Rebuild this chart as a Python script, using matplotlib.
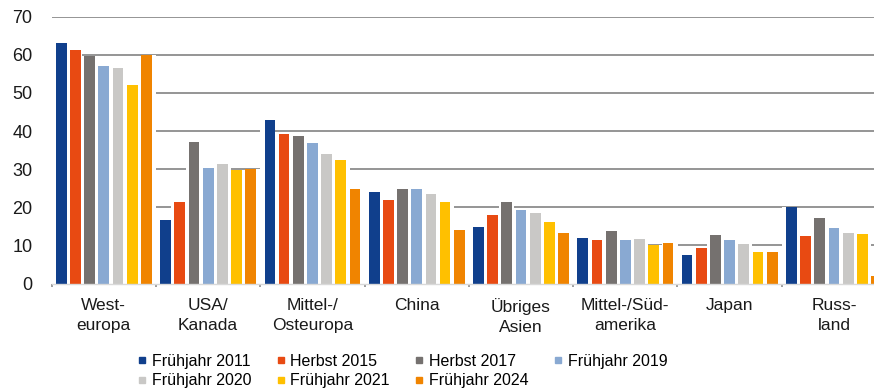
import matplotlib
matplotlib.use("Agg")
import matplotlib.pyplot as plt
from matplotlib.lines import Line2D
import numpy as np

plt.rcParams['font.family'] = ['Liberation Sans', 'DejaVu Sans']

regions = ["West-\neuropa", "USA/\nKanada", "Mittel-/\nOsteuropa", "China",
           "Übriges\nAsien", "Mittel-/Süd-\namerika", "Japan", "Russ-\nland"]

series_names = ["Frühjahr 2011", "Herbst 2015", "Herbst 2017", "Frühjahr 2019",
                "Frühjahr 2020", "Frühjahr 2021", "Frühjahr 2024"]

fj2011 = [63.2, 16.7, 43.0, 23.9, 14.8, 11.9, 7.4, 20.0]
hb2015 = [61.2, 21.5, 39.3, 22.0, 18.0, 11.4, 9.2, 12.5]
hb2017 = [59.6, 37.0, 38.7, 24.9, 21.3, 13.7, 12.7, 17.2]
fj2019 = [57.0, 30.2, 36.8, 24.7, 19.3, 11.4, 11.5, 14.5]
fj2020 = [56.5, 31.4, 33.9, 23.4, 18.6, 11.7, 10.3, 13.2]
fj2021 = [52.1, 29.9, 32.3, 21.3, 16.1, 10.1, 8.3, 13.1]
fj2024 = [59.9, 30.1, 24.8, 14.0, 13.2, 10.6, 8.3, 1.9]

series = [fj2011, hb2015, hb2017, fj2019, fj2020, fj2021, fj2024]
colors = ["#103F8C", "#E84A12", "#75716F", "#89A9D2",
          "#C9C8C6", "#FFC000", "#F08400"]

yticks = [0, 10, 20, 30, 40, 50, 60, 70]

fig = plt.figure(figsize=(8.74, 3.89), dpi=100)
ax = fig.add_axes([51.7 / 874, (389 - 283.5) / 389, 834.4 / 874, 266.8 / 389])

x = np.arange(len(regions))
step = 0.136
n = len(series)
offsets = (np.arange(n) - (n - 1) / 2) * step
fill_w = 0.103
# white backing slots tile each category so the grid stays hidden behind bars
slot_w = 1.0 / n
slot_centers = (np.arange(n) - (n - 1) / 2) * slot_w

for i, (off, vals, col, name) in enumerate(zip(offsets, series, colors, series_names)):
    ax.bar(x + slot_centers[i], vals, width=slot_w + 0.002, color="white",
           zorder=2, linewidth=0)
    ax.bar(x + off, vals, width=fill_w, color=col, zorder=3, linewidth=0, label=name)

ax.set_xlim(-0.5, len(regions) - 0.5)
ax.set_ylim(0, 70)
ax.set_yticks(yticks)
ax.set_yticklabels([str(v) for v in yticks], fontsize=13, color="#1a1a1a")
ax.tick_params(axis="y", length=0, pad=14)

ax.yaxis.grid(True, color="#8C8C8C", linewidth=1.3, zorder=0)
ax.set_axisbelow(True)

ax.set_xticks(x)
ax.set_xticklabels(regions, fontsize=12.5, color="#1a1a1a", linespacing=1.45)
ax.tick_params(axis="x", length=0, pad=10.5)
# small category-boundary ticks
ax.set_xticks(np.arange(len(regions) + 1) - 0.5, minor=True)
ax.tick_params(axis="x", which="minor", length=2, width=1.2, color="#8C8C8C", direction="out")

for s in ["top", "right", "left"]:
    ax.spines[s].set_visible(False)
ax.spines["bottom"].set_color("#D9D9D9")
ax.spines["bottom"].set_linewidth(1.0)
ax.spines["bottom"].set_zorder(4)

# legend filled row by row
order = [0, 4, 1, 5, 2, 6, 3]
handles = [Line2D([0], [0], marker="s", linestyle="none", markersize=5,
                  markerfacecolor=colors[i], markeredgecolor=colors[i]) for i in order]
labels = [series_names[i] for i in order]
fig.legend(handles, labels, ncol=4, loc="upper left",
           bbox_to_anchor=(138 / 874, 1 - 354 / 389), frameon=False,
           fontsize=11.5, handlelength=0.5, handletextpad=0.35,
           columnspacing=1.6, labelspacing=0.28, borderaxespad=0, borderpad=0)

fig.savefig("out.png", dpi=100)
